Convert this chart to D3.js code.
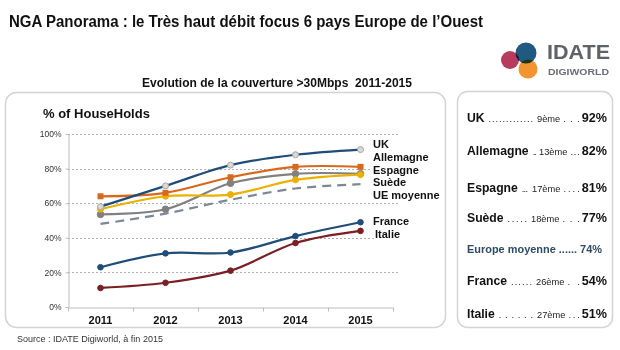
<!DOCTYPE html>
<html><head><meta charset="utf-8">
<script src="https://cdn.jsdelivr.net/npm/d3@7"></script>
<style>
body{margin:0;background:#fff;}
svg{display:block;font-family:"Liberation Sans",Arial,Helvetica,sans-serif;}
</style></head>
<body><svg id="chart" width="620" height="350"></svg>
<script>
const years = ["2011","2012","2013","2014","2015"];
const seriesNames = ["UK","Allemagne","Espagne","Suède","UE moyenne","France","Italie"];
const ukValues        = [58, 70, 82, 88, 91];
const allemagneValues = [64, 66, 75, 81, 81];
const espagneValues   = [56.5, 64, 65, 73.5, 76.5];
const suedeValues     = [53.5, 56.5, 71.5, 77, 77];
const ueValues        = [48, 54, 62, 68.5, 71];
const franceValues    = [23, 31, 31.5, 41, 49];
const italieValues    = [11, 14, 21, 37, 44];
const yTicks = [0, 20, 40, 60, 80, 100];

const rankNames = ["UK","Allemagne","Espagne","Suède","France","Italie"];
const rankDots1 = [".............","..","...",".....","......","......"];
const rankPos   = ["9ème","13ème","17ème","18ème","26ème","27ème"];
const rankDots2 = ["...","...","....","...","..","..."];
const rankPct   = ["92%","82%","81%","77%","54%","51%"];
const euLabel = "Europe moyenne ...... 74%";

const styles = {
  "UK":         {color:"#1f4d78", marker:"circle", mfill:"#d9d9d9", mstroke:"#a6a6a6", r:3},
  "Allemagne":  {color:"#d8691c", marker:"square", mfill:"#d8691c", mstroke:"#d8691c", r:3},
  "Espagne":    {color:"#ebb000", marker:"circle", mfill:"#ebb000", mstroke:"#ebb000", r:3},
  "Suède":      {color:"#808080", marker:"circle", mfill:"#808080", mstroke:"#808080", r:3.3},
  "UE moyenne": {color:"#7d8796", marker:null, dash:"9,6"},
  "France":     {color:"#1f4d78", marker:"circle", mfill:"#1f4d78", mstroke:"#1f4d78", r:2.8},
  "Italie":     {color:"#7a1f24", marker:"circle", mfill:"#7a1f24", mstroke:"#7a1f24", r:2.8}
};
const valuesByName = {
  "UK":ukValues,"Allemagne":allemagneValues,"Espagne":espagneValues,"Suède":suedeValues,
  "UE moyenne":ueValues,"France":franceValues,"Italie":italieValues
};

const svg = d3.select("#chart");

// Title
svg.append("text").attr("x",9).attr("y",27)
  .attr("font-size",16).attr("font-weight","bold").attr("fill","#111")
  .attr("textLength",474).attr("lengthAdjust","spacingAndGlyphs")
  .text("NGA Panorama : le Très haut débit focus 6 pays Europe de l’Ouest");

// Logo
const logo = svg.append("g");
logo.append("circle").attr("cx",526).attr("cy",53).attr("r",10.5).attr("fill","#1f5a80").style("mix-blend-mode","multiply");
logo.append("circle").attr("cx",528).attr("cy",69).attr("r",9.5).attr("fill","#f29430").style("mix-blend-mode","multiply");
logo.append("circle").attr("cx",510).attr("cy",60).attr("r",9).attr("fill","#b02a4e").attr("opacity",0.92).style("mix-blend-mode","multiply");
logo.append("text").attr("x",547).attr("y",59).attr("font-size",21).attr("font-weight","bold")
  .attr("fill","#5f6368").attr("textLength",63).attr("lengthAdjust","spacingAndGlyphs").text("IDATE");
logo.append("text").attr("x",548).attr("y",75).attr("font-size",8.5).attr("font-weight","bold")
  .attr("fill","#6b6f73").attr("textLength",61).attr("lengthAdjust","spacingAndGlyphs").text("DIGIWORLD");

// Subtitle
svg.append("text").attr("x",277).attr("y",87).attr("text-anchor","middle")
  .attr("font-size",13).attr("font-weight","bold").attr("fill","#111")
  .style("white-space","pre")
  .attr("textLength",270).attr("lengthAdjust","spacingAndGlyphs")
  .text("Evolution de la couverture >30Mbps  2011-2015");

// Panels
svg.append("rect").attr("x",5.5).attr("y",92.5).attr("width",440).attr("height",235).attr("rx",11)
  .attr("fill","#fff").attr("stroke","#d4d4d4").attr("stroke-width",1.5);
svg.append("rect").attr("x",457.5).attr("y",91.5).attr("width",155).attr("height",236).attr("rx",10)
  .attr("fill","#fff").attr("stroke","#d4d4d4").attr("stroke-width",1.5);

// Scales
const x = d3.scaleBand().domain(years).range([68,393]);
const xc = d => x(d) + x.bandwidth()/2;
const y = d3.scaleLinear().domain([0,100]).range([307,134]);

// Y label
svg.append("text").attr("x",43).attr("y",118).attr("font-size",13).attr("font-weight","bold")
  .attr("fill","#111").text("% of HouseHolds");

// Gridlines
svg.append("g").selectAll("line").data(yTicks.filter(t=>t>0)).join("line")
  .attr("x1",68).attr("x2",400).attr("y1",d=>Math.round(y(d))+0.5).attr("y2",d=>Math.round(y(d))+0.5)
  .attr("stroke","#b0b0b0").attr("stroke-width",1).attr("stroke-dasharray","2,2");

// Y axis
const yAxis = svg.append("g").attr("transform","translate(68.5,0)")
  .call(d3.axisLeft(y).tickValues(yTicks).tickFormat(d=>d+"%").tickSize(3).tickPadding(4).tickSizeOuter(0));
yAxis.select(".domain").attr("stroke","#bdbdbd");
yAxis.selectAll(".tick line").attr("stroke","#bdbdbd");
yAxis.selectAll("text").attr("font-size",8.5).attr("fill","#333").attr("font-family","Liberation Sans, Arial, sans-serif");

// X axis
const xAxis = svg.append("g").attr("transform","translate(0,307.5)")
  .call(d3.axisBottom(x).tickSize(0).tickPadding(9).tickSizeOuter(0));
xAxis.select(".domain").attr("stroke","#bdbdbd");
xAxis.selectAll("text").attr("font-size",11).attr("font-weight","bold").attr("fill","#111")
  .attr("font-family","Liberation Sans, Arial, sans-serif");
const bounds = years.map(d=>x(d)).concat([x(years[years.length-1])+x.step()]);
xAxis.selectAll(".bt").data(bounds).join("line").attr("class","bt")
  .attr("x1",d=>Math.round(d)+0.5).attr("x2",d=>Math.round(d)+0.5).attr("y1",0).attr("y2",4)
  .attr("stroke","#bdbdbd");

// Lines
const line = d3.line().x((d,i)=>xc(years[i])).y(d=>y(d)).curve(d3.curveCatmullRom.alpha(0.5));
const drawOrder = ["UE moyenne","Italie","France","Suède","Espagne","Allemagne","UK"];
drawOrder.forEach(name=>{
  const s = styles[name], vals = valuesByName[name];
  svg.append("path").datum(vals).attr("d",line).attr("fill","none")
    .attr("stroke",s.color).attr("stroke-width",2.2)
    .attr("stroke-dasharray",s.dash||null);
  if(s.marker==="circle"){
    svg.append("g").selectAll("circle").data(vals).join("circle")
      .attr("cx",(d,i)=>xc(years[i])).attr("cy",d=>y(d)).attr("r",s.r)
      .attr("fill",s.mfill).attr("stroke",s.mstroke).attr("stroke-width",1);
  } else if(s.marker==="square"){
    svg.append("g").selectAll("rect").data(vals).join("rect")
      .attr("x",(d,i)=>xc(years[i])-s.r).attr("y",d=>y(d)-s.r).attr("width",2*s.r).attr("height",2*s.r)
      .attr("fill",s.mfill);
  }
});

// Series labels
const labelY = [148,161,173.5,186,199,225,237.5];
const labelX = [373,373,373,373,373,373,375];
svg.append("g").selectAll("text").data(seriesNames).join("text")
  .attr("x",(d,i)=>labelX[i]).attr("y",(d,i)=>labelY[i])
  .attr("font-size",11).attr("font-weight","bold").attr("fill","#111")
  .attr("stroke","#fff").attr("stroke-width",3).attr("paint-order","stroke")
  .text(d=>d);

// Source
svg.append("text").attr("x",17).attr("y",342).attr("font-size",9).attr("fill","#333")
  .text("Source : IDATE Digiworld, à fin 2015");

// Ranking panel
const rankY = [122,155,191.5,221.5,285,318];
const rankX = [537,539,532,531,536,537];
const left = 467, right = 607;
rankNames.forEach((n,i)=>{
  const nameT = svg.append("text").attr("x",left).attr("y",rankY[i]).attr("fill","#111")
    .attr("font-size",12.2).attr("font-weight","bold").text(n);
  const pctT = svg.append("text").attr("x",right).attr("y",rankY[i]).attr("fill","#111")
    .attr("text-anchor","end").attr("font-size",12.6).attr("font-weight","bold").text(rankPct[i]);
  const posT = svg.append("text").attr("x",rankX[i]).attr("y",rankY[i]).attr("fill","#222")
    .attr("font-size",9.3).text(rankPos[i]);
  const nameEnd = left + nameT.node().getComputedTextLength();
  const pctStart = right - pctT.node().getComputedTextLength();
  const posEnd = rankX[i] + posT.node().getComputedTextLength();
  const d1s = nameEnd + 4, d1e = rankX[i] - 4;
  svg.append("text").attr("x",d1s).attr("y",rankY[i]).attr("fill","#222").attr("font-size",9.3)
    .attr("textLength",Math.max(4,d1e-d1s)).attr("lengthAdjust","spacing").text(rankDots1[i]);
  const d2s = posEnd + 3, d2e = pctStart - 2;
  svg.append("text").attr("x",d2s).attr("y",rankY[i]).attr("fill","#222").attr("font-size",9.3)
    .attr("textLength",Math.max(4,d2e-d2s)).attr("lengthAdjust","spacing").text(rankDots2[i]);
});
svg.append("text").attr("x",left).attr("y",253).attr("font-size",10).attr("font-weight","bold")
  .attr("fill","#2e4a66").attr("textLength",135).attr("lengthAdjust","spacingAndGlyphs").text(euLabel);
</script></body></html>
